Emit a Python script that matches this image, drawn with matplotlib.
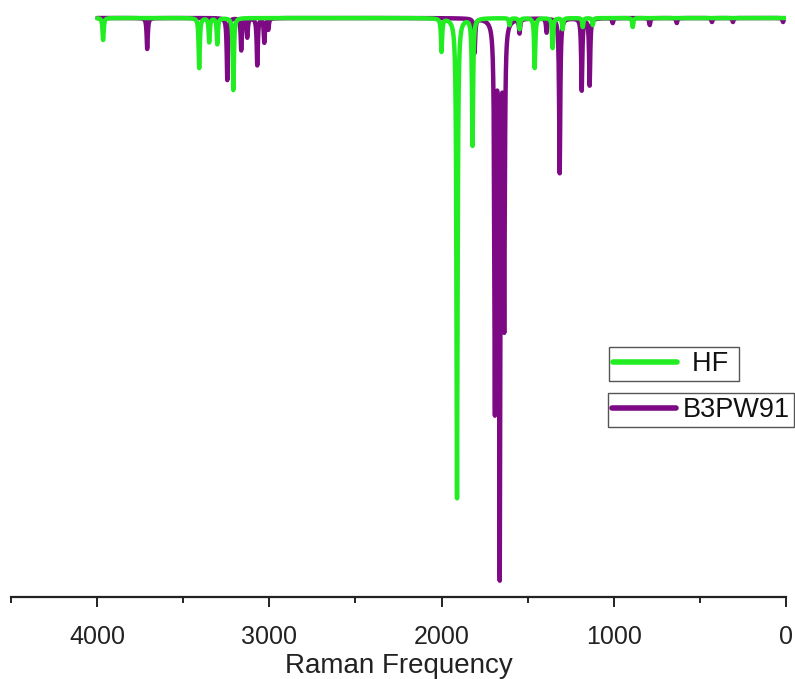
import numpy as np
import matplotlib
matplotlib.use("Agg")
import matplotlib.pyplot as plt
from matplotlib.lines import Line2D
from matplotlib.ticker import MultipleLocator

plt.rcParams["font.family"] = ["Liberation Sans", "DejaVu Sans"]

# Calculated Raman bands: wavenumber (cm^-1) and relative activity
hf_freq = [3965, 3407, 3349, 3302, 3209, 2000, 1910, 1820, 1605, 1547,
           1459, 1355, 1297, 1180, 1122, 890]
hf_int = [22, 50, 24, 26, 72, 33, 480, 127, 7, 11,
          50, 30, 11, 9, 7, 9]

b3pw91_freq = [3709, 3244, 3163, 3128, 3070, 3029, 3006, 1808, 1690, 1662,
               1636, 1547, 1390, 1314, 1186, 1140, 1006, 791, 634, 430,
               308, 17]
b3pw91_int = [31, 62, 32, 19, 47, 24, 11, 34, 385, 548,
              300, 14, 14, 155, 72, 67, 5, 7, 5, 4,
              4, 4]

series_names = ["HF", "B3PW91"]
series_colors = ["#22EC22", "#7D0A84"]

x_ticks = [4000, 3000, 2000, 1000, 0]
x_label = "Raman Frequency"

# Lorentzian broadening of the stick spectra
HWHM = 4.0
grid = np.linspace(0, 4000, 16001)


def broaden(freqs, ints):
    f = np.asarray(freqs, float)[:, None]
    a = np.asarray(ints, float)[:, None]
    return (a * HWHM**2 / ((grid[None, :] - f) ** 2 + HWHM**2)).sum(axis=0)


fig = plt.figure(figsize=(7.95, 6.79), dpi=100)
ax = fig.add_axes([11 / 795, 82 / 679, 775 / 795, 597 / 679])

spec_b3 = broaden(b3pw91_freq, b3pw91_int)
spec_hf = broaden(hf_freq, hf_int)
ax.plot(grid, -spec_b3, color=series_colors[1], lw=3.2,
        solid_capstyle="round", solid_joinstyle="round", zorder=2)
ax.plot(grid, -spec_hf, color=series_colors[0], lw=3.2,
        solid_capstyle="round", solid_joinstyle="round", zorder=3)

ax.set_xlim(4500, 0)
ax.set_ylim(-579, 18)

for side in ["left", "right", "top"]:
    ax.spines[side].set_visible(False)
ax.spines["bottom"].set_linewidth(1.6)
ax.spines["bottom"].set_color("#222222")
ax.set_yticks([])
ax.set_xticks(x_ticks)
ax.xaxis.set_minor_locator(MultipleLocator(500))
ax.tick_params(axis="x", which="major", direction="out", length=7,
               width=1.4, labelsize=18, pad=13, colors="#222222")
ax.tick_params(axis="x", which="minor", direction="out", length=4,
               width=1.4, colors="#222222")
ax.set_xlabel(x_label, fontsize=20, labelpad=3, color="#222222")

# Each series gets its own framed legend box
legend_specs = [
    (series_names[0] + " ", series_colors[0], (609 / 795, 1 - 347 / 679), 0.55),
    (series_names[1], series_colors[1], (608 / 795, 1 - 393 / 679), 0.25),
]
for name, col, anchor, tpad in legend_specs:
    h = Line2D([], [], color=col, lw=4.0, solid_capstyle="round")
    leg = fig.legend([h], [name], loc="upper left", bbox_to_anchor=anchor,
                     bbox_transform=fig.transFigure, fontsize=19.5,
                     frameon=True, fancybox=False, borderpad=0.15,
                     handlelength=2.35, handletextpad=tpad,
                     borderaxespad=0.0)
    fr = leg.get_frame()
    fr.set_edgecolor("#555555")
    fr.set_linewidth(1.0)
    fr.set_facecolor("white")
    fr.set_alpha(1.0)
    for t in leg.get_texts():
        t.set_color("#111111")

fig.savefig("out.png", dpi=100)
